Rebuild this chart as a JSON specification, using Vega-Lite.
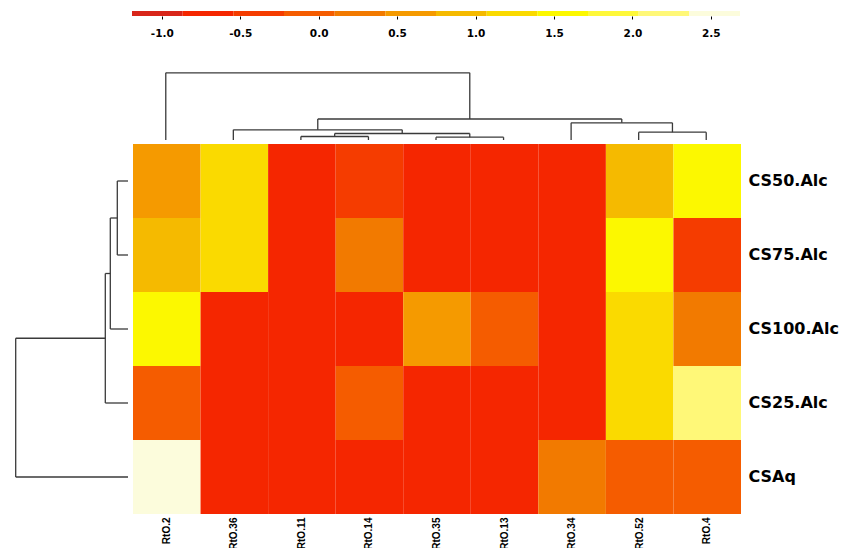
{
  "$schema": "https://vega.github.io/schema/vega-lite/v6.json",
  "padding": {"left": 12, "top": 11, "right": 0, "bottom": 0},
  "background": "white",
  "config": {
    "view": {"stroke": null},
    "axis": {"labelFont": "DejaVu Sans", "labelFontWeight": "bold", "labelColor": "#000000", "grid": false}
  },
  "datasets": {
    "cells": [
      {"row": "CS50.Alc", "col": "RtO.2", "v": 0.6},
      {"row": "CS50.Alc", "col": "RtO.36", "v": 1.25},
      {"row": "CS50.Alc", "col": "RtO.11", "v": -0.72},
      {"row": "CS50.Alc", "col": "RtO.14", "v": -0.4},
      {"row": "CS50.Alc", "col": "RtO.35", "v": -0.72},
      {"row": "CS50.Alc", "col": "RtO.13", "v": -0.72},
      {"row": "CS50.Alc", "col": "RtO.34", "v": -0.72},
      {"row": "CS50.Alc", "col": "RtO.52", "v": 0.9},
      {"row": "CS50.Alc", "col": "RtO.4", "v": 1.55},
      {"row": "CS75.Alc", "col": "RtO.2", "v": 0.92},
      {"row": "CS75.Alc", "col": "RtO.36", "v": 1.22},
      {"row": "CS75.Alc", "col": "RtO.11", "v": -0.72},
      {"row": "CS75.Alc", "col": "RtO.14", "v": 0.25},
      {"row": "CS75.Alc", "col": "RtO.35", "v": -0.72},
      {"row": "CS75.Alc", "col": "RtO.13", "v": -0.72},
      {"row": "CS75.Alc", "col": "RtO.34", "v": -0.72},
      {"row": "CS75.Alc", "col": "RtO.52", "v": 1.6},
      {"row": "CS75.Alc", "col": "RtO.4", "v": -0.35},
      {"row": "CS100.Alc", "col": "RtO.2", "v": 1.58},
      {"row": "CS100.Alc", "col": "RtO.36", "v": -0.72},
      {"row": "CS100.Alc", "col": "RtO.11", "v": -0.72},
      {"row": "CS100.Alc", "col": "RtO.14", "v": -0.72},
      {"row": "CS100.Alc", "col": "RtO.35", "v": 0.58},
      {"row": "CS100.Alc", "col": "RtO.13", "v": -0.05},
      {"row": "CS100.Alc", "col": "RtO.34", "v": -0.72},
      {"row": "CS100.Alc", "col": "RtO.52", "v": 1.2},
      {"row": "CS100.Alc", "col": "RtO.4", "v": 0.28},
      {"row": "CS25.Alc", "col": "RtO.2", "v": -0.08},
      {"row": "CS25.Alc", "col": "RtO.36", "v": -0.72},
      {"row": "CS25.Alc", "col": "RtO.11", "v": -0.72},
      {"row": "CS25.Alc", "col": "RtO.14", "v": -0.1},
      {"row": "CS25.Alc", "col": "RtO.35", "v": -0.72},
      {"row": "CS25.Alc", "col": "RtO.13", "v": -0.72},
      {"row": "CS25.Alc", "col": "RtO.34", "v": -0.72},
      {"row": "CS25.Alc", "col": "RtO.52", "v": 1.25},
      {"row": "CS25.Alc", "col": "RtO.4", "v": 2.2},
      {"row": "CSAq", "col": "RtO.2", "v": 2.6},
      {"row": "CSAq", "col": "RtO.36", "v": -0.72},
      {"row": "CSAq", "col": "RtO.11", "v": -0.72},
      {"row": "CSAq", "col": "RtO.14", "v": -0.72},
      {"row": "CSAq", "col": "RtO.35", "v": -0.72},
      {"row": "CSAq", "col": "RtO.13", "v": -0.72},
      {"row": "CSAq", "col": "RtO.34", "v": 0.3},
      {"row": "CSAq", "col": "RtO.52", "v": -0.02},
      {"row": "CSAq", "col": "RtO.4", "v": -0.04}
    ],
    "keybins": [
      {"lo": -1.19, "hi": -0.867, "mid": -1.0285},
      {"lo": -0.867, "hi": -0.544, "mid": -0.7055},
      {"lo": -0.544, "hi": -0.221, "mid": -0.3825},
      {"lo": -0.221, "hi": 0.102, "mid": -0.0595},
      {"lo": 0.102, "hi": 0.425, "mid": 0.2635},
      {"lo": 0.425, "hi": 0.748, "mid": 0.5865},
      {"lo": 0.748, "hi": 1.071, "mid": 0.9095},
      {"lo": 1.071, "hi": 1.394, "mid": 1.2325},
      {"lo": 1.394, "hi": 1.717, "mid": 1.5555},
      {"lo": 1.717, "hi": 2.04, "mid": 1.8785},
      {"lo": 2.04, "hi": 2.363, "mid": 2.2015},
      {"lo": 2.363, "hi": 2.686, "mid": 2.5245}
    ],
    "coltree": [
      {"pos": 2.5, "pos2": 2.5, "h": 0, "h2": 0.35},
      {"pos": 3.5, "pos2": 3.5, "h": 0, "h2": 0.35},
      {"pos": 2.5, "pos2": 3.5, "h": 0.35, "h2": 0.35},
      {"pos": 3.0, "pos2": 3.0, "h": 0.35, "h2": 0.65},
      {"pos": 4.5, "pos2": 4.5, "h": 0, "h2": 0.28},
      {"pos": 5.5, "pos2": 5.5, "h": 0, "h2": 0.28},
      {"pos": 4.5, "pos2": 5.5, "h": 0.28, "h2": 0.28},
      {"pos": 5.0, "pos2": 5.0, "h": 0.28, "h2": 0.65},
      {"pos": 3.0, "pos2": 5.0, "h": 0.65, "h2": 0.65},
      {"pos": 4.0, "pos2": 4.0, "h": 0.65, "h2": 1.02},
      {"pos": 1.5, "pos2": 1.5, "h": 0, "h2": 1.02},
      {"pos": 1.5, "pos2": 4.0, "h": 1.02, "h2": 1.02},
      {"pos": 2.75, "pos2": 2.75, "h": 1.02, "h2": 2.1},
      {"pos": 7.5, "pos2": 7.5, "h": 0, "h2": 0.78},
      {"pos": 8.5, "pos2": 8.5, "h": 0, "h2": 0.78},
      {"pos": 7.5, "pos2": 8.5, "h": 0.78, "h2": 0.78},
      {"pos": 8.0, "pos2": 8.0, "h": 0.78, "h2": 1.72},
      {"pos": 6.5, "pos2": 6.5, "h": 0, "h2": 1.72},
      {"pos": 6.5, "pos2": 8.0, "h": 1.72, "h2": 1.72},
      {"pos": 7.25, "pos2": 7.25, "h": 1.72, "h2": 2.1},
      {"pos": 2.75, "pos2": 7.25, "h": 2.1, "h2": 2.1},
      {"pos": 5.0, "pos2": 5.0, "h": 2.1, "h2": 6.72},
      {"pos": 0.5, "pos2": 0.5, "h": 0, "h2": 6.72},
      {"pos": 0.5, "pos2": 5.0, "h": 6.72, "h2": 6.72}
    ],
    "rowtree": [
      {"pos": 0.5, "pos2": 0.5, "h": 0, "h2": 1.07},
      {"pos": 1.5, "pos2": 1.5, "h": 0, "h2": 1.07},
      {"pos": 0.5, "pos2": 1.5, "h": 1.07, "h2": 1.07},
      {"pos": 1.0, "pos2": 1.0, "h": 1.07, "h2": 1.77},
      {"pos": 2.5, "pos2": 2.5, "h": 0, "h2": 1.77},
      {"pos": 1.0, "pos2": 2.5, "h": 1.77, "h2": 1.77},
      {"pos": 1.75, "pos2": 1.75, "h": 1.77, "h2": 2.27},
      {"pos": 3.5, "pos2": 3.5, "h": 0, "h2": 2.27},
      {"pos": 1.75, "pos2": 3.5, "h": 2.27, "h2": 2.27},
      {"pos": 2.625, "pos2": 2.625, "h": 2.27, "h2": 11.23},
      {"pos": 4.5, "pos2": 4.5, "h": 0, "h2": 11.23},
      {"pos": 2.625, "pos2": 4.5, "h": 11.23, "h2": 11.23}
    ]
  },
  "spacing": 3,
  "resolve": {"scale": {"color": "shared"}},
  "vconcat": [
    {
      "spacing": 4,
      "hconcat": [
        {"width": 116, "height": 5, "data": {"values": []}, "mark": "point"},
        {
          "width": 608,
          "height": 5,
          "data": {"name": "keybins"},
          "mark": {"type": "rect"},
          "encoding": {
            "x": {
              "field": "lo", "type": "quantitative",
              "scale": {"domain": [-1.19, 2.686], "nice": false, "zero": false},
              "axis": {
                "title": null, "domain": false, "ticks": true, "tickSize": 3, "tickColor": "#000000",
                "values": [-1, -0.5, 0, 0.5, 1, 1.5, 2, 2.5],
                "labelExpr": "replace(format(datum.value, '.1f'), '\u2212', '-')",
                "labelFontSize": 10.5, "labelPadding": 9
              }
            },
            "x2": {"field": "hi"},
            "color": {
              "field": "mid", "type": "quantitative",
              "scale": {
                "type": "quantize", "domain": [-1.19, 2.686], "nice": false,
                "range": ["#D8261A", "#F52600", "#F53C00", "#F55C00", "#F27A00", "#F59A00", "#F5BA00", "#FADA00", "#FCF800", "#FEF83A", "#FFF878", "#FCFCDC"]
              },
              "legend": null
            }
          }
        }
      ]
    },
    {
      "spacing": 4,
      "hconcat": [
        {"width": 116, "height": 98, "data": {"values": []}, "mark": "point"},
        {
          "width": 608,
          "height": 98,
          "data": {"name": "coltree"},
          "mark": {"type": "rule", "color": "#3a3a3a", "strokeWidth": 1.3},
          "encoding": {
            "x": {"field": "pos", "type": "quantitative", "scale": {"domain": [0, 9], "nice": false, "zero": false}, "axis": null},
            "x2": {"field": "pos2"},
            "y": {"field": "h", "type": "quantitative", "scale": {"domain": [0, 9.8], "nice": false}, "axis": null},
            "y2": {"field": "h2"}
          }
        }
      ]
    },
    {
      "spacing": 4,
      "hconcat": [
        {
          "width": 116,
          "height": 370,
          "data": {"name": "rowtree"},
          "mark": {"type": "rule", "color": "#3a3a3a", "strokeWidth": 1.3},
          "encoding": {
            "x": {"field": "h", "type": "quantitative", "scale": {"domain": [0, 11.6], "nice": false, "reverse": true}, "axis": null},
            "x2": {"field": "h2"},
            "y": {"field": "pos", "type": "quantitative", "scale": {"domain": [0, 5], "nice": false, "zero": false, "reverse": true}, "axis": null},
            "y2": {"field": "pos2"}
          }
        },
        {
          "width": 608,
          "height": 370,
          "data": {"name": "cells"},
          "mark": {"type": "rect"},
          "encoding": {
            "x": {
              "field": "col", "type": "nominal",
              "sort": ["RtO.2", "RtO.36", "RtO.11", "RtO.14", "RtO.35", "RtO.13", "RtO.34", "RtO.52", "RtO.4"],
              "scale": {"paddingInner": 0, "paddingOuter": 0},
              "axis": {"title": null, "orient": "bottom", "labelAngle": -90, "ticks": false, "domain": false, "labelPadding": 3, "labelFontSize": 10, "labelFont": "Liberation Sans"}
            },
            "y": {
              "field": "row", "type": "nominal",
              "sort": ["CS50.Alc", "CS75.Alc", "CS100.Alc", "CS25.Alc", "CSAq"],
              "scale": {"paddingInner": 0, "paddingOuter": 0},
              "axis": {"title": null, "orient": "right", "ticks": false, "domain": false, "labelPadding": 7, "labelFontSize": 16}
            },
            "color": {
              "field": "v", "type": "quantitative",
              "scale": {
                "type": "quantize", "domain": [-1.19, 2.686], "nice": false,
                "range": ["#D8261A", "#F52600", "#F53C00", "#F55C00", "#F27A00", "#F59A00", "#F5BA00", "#FADA00", "#FCF800", "#FEF83A", "#FFF878", "#FCFCDC"]
              },
              "legend": null
            }
          }
        }
      ]
    }
  ]
}
